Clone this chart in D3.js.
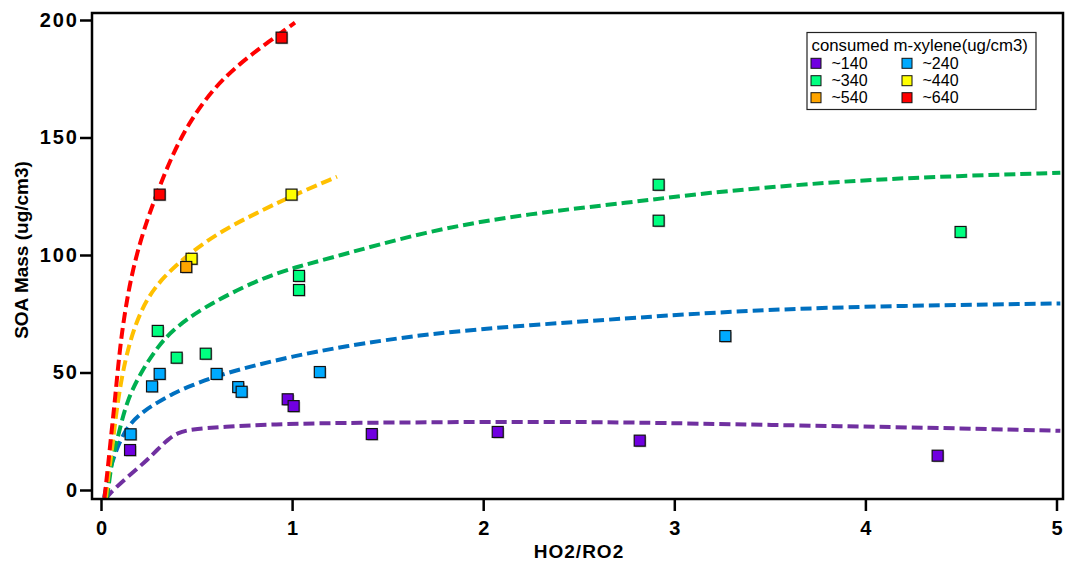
<!DOCTYPE html>
<html>
<head>
<meta charset="utf-8">
<script src="https://cdn.jsdelivr.net/npm/d3@7"></script>
<style>
  html, body { margin: 0; padding: 0; background: #fff; }
  svg { display: block; }
  text { font-family: "Liberation Sans", Arial, sans-serif; }
</style>
</head>
<body>
<svg id="chart" width="1067" height="563"></svg>
<script>
// Series: consumed m-xylene groups
const groups = ["~140", "~240", "~340", "~440", "~540", "~640"];
const markerColors = ["#7000e0", "#00aaff", "#00ff80", "#ffff00", "#ffa500", "#ff0000"];
const fitColors = ["#7030a0", "#0070c0", "#00b050", null, "#ffc000", "#ff0000"];

// Measured points [HO2/RO2, SOA mass]
const pts140 = [[0.152, 17.0], [0.977, 38.6], [1.008, 35.7], [1.417, 23.8], [2.076, 24.7], [2.819, 21.0], [4.378, 14.6]];
const pts240 = [[0.155, 23.7], [0.307, 49.4], [0.267, 44.1], [0.605, 49.4], [0.718, 43.8], [0.736, 41.8], [1.145, 50.2], [3.267, 65.5]];
const pts340 = [[0.297, 67.7], [0.396, 56.3], [0.548, 58.0], [1.036, 91.1], [1.036, 85.1], [2.918, 129.9], [2.918, 114.6], [4.498, 109.8]];
const pts440 = [[0.474, 98.4], [0.997, 125.7]];
const pts540 = [[0.446, 94.9]];
const pts640 = [[0.307, 125.7], [0.945, 192.5]];

// Fitted curves (dashed)
const fit140 = [[0.026, -3.8], [0.042, -1.7], [0.126, 4.7], [0.232, 12.0], [0.293, 17.0], [0.35, 21.5], [0.40, 24.3], [0.466, 25.8], [0.64, 26.9], [0.902, 28.0], [1.251, 28.6], [2.245, 29.1], [2.768, 28.8], [3.483, 27.7], [4.354, 26.5], [5.02, 25.2]];
const fit240 = [[0.016, -3.4], [0.024, 0], [0.049, 9.8], [0.093, 19.9], [0.145, 27.9], [0.23, 34.0], [0.291, 37.0], [0.378, 41.1], [0.466, 44.3], [0.638, 49.4], [0.815, 53.2], [0.989, 56.6], [1.251, 60.9], [1.722, 66.7], [2.245, 70.2], [2.768, 73.1], [3.134, 75.2], [3.832, 78.0], [5.02, 79.4]];
const fit340 = [[0.031, -3.8], [0.044, 4.3], [0.058, 12.8], [0.093, 24.1], [0.136, 38.3], [0.215, 51.0], [0.302, 61.5], [0.372, 67.8], [0.518, 77.0], [0.815, 89.4], [1.024, 95.0], [1.198, 98.6], [1.722, 110.6], [2.245, 117.7], [2.768, 122.3], [3.139, 126.3], [3.83, 131.2], [4.354, 133.3], [5.02, 135.0]];
const fit540 = [[0.026, -3.4], [0.042, 8.5], [0.058, 17.0], [0.084, 36.5], [0.127, 56.0], [0.179, 70.5], [0.241, 81.5], [0.324, 90.5], [0.466, 101.0], [0.638, 110.6], [0.815, 117.9], [0.989, 124.8], [1.235, 133.3]];
const fit640 = [[0.018, -3.4], [0.037, 10.2], [0.055, 24.7], [0.073, 38.3], [0.089, 52.3], [0.11, 67.5], [0.136, 81.0], [0.167, 94.0], [0.22, 110.0], [0.293, 126.5], [0.378, 143.5], [0.466, 157.0], [0.588, 170.9], [0.727, 181.6], [0.867, 190.1], [1.015, 198.9]];

const xTicks = [0, 1, 2, 3, 4, 5];
const yTicks = [0, 50, 100, 150, 200];

const pointSets = [pts140, pts240, pts340, pts440, pts540, pts640];
const fitSets = [fit140, fit240, fit340, null, fit540, fit640];

const svg = d3.select("#chart");
const frame = { left: 92, top: 13, right: 1063, bottom: 499 };

const x = d3.scaleLinear().domain([0, 5]).range([101, 1056.5]);
const y = d3.scaleLinear().domain([0, 200]).range([490, 20]);

svg.append("defs").append("clipPath").attr("id", "plotClip")
  .append("rect")
  .attr("x", frame.left).attr("y", frame.top)
  .attr("width", frame.right - frame.left).attr("height", frame.bottom - frame.top);

// Fit curves
const line = d3.line().x(d => x(d[0])).y(d => y(d[1])).curve(d3.curveBasis);
const curves = svg.append("g").attr("clip-path", "url(#plotClip)");
fitSets.forEach((fit, i) => {
  if (!fit) return;
  curves.append("path")
    .datum(fit)
    .attr("d", line)
    .attr("fill", "none")
    .attr("stroke", fitColors[i])
    .attr("stroke-width", 4)
    .attr("stroke-dasharray", "11,5");
});

// Markers
const size = 11;
const marks = svg.append("g");
pointSets.forEach((pts, i) => {
  const g = marks.append("g");
  g.selectAll("rect.shadow").data(pts).join("rect")
    .attr("class", "shadow")
    .attr("x", d => x(d[0]) - size / 2 + 1.2)
    .attr("y", d => y(d[1]) - size / 2 + 1.2)
    .attr("width", size).attr("height", size)
    .attr("fill", "#000").attr("opacity", 0.25);
  g.selectAll("rect.pt").data(pts).join("rect")
    .attr("class", "pt")
    .attr("x", d => x(d[0]) - size / 2)
    .attr("y", d => y(d[1]) - size / 2)
    .attr("width", size).attr("height", size)
    .attr("fill", markerColors[i])
    .attr("stroke", "#111").attr("stroke-width", 1.2);
});

// Frame
svg.append("rect")
  .attr("x", frame.left).attr("y", frame.top)
  .attr("width", frame.right - frame.left).attr("height", frame.bottom - frame.top)
  .attr("fill", "none").attr("stroke", "#000").attr("stroke-width", 2.5);

// Axes
const yAxis = svg.append("g")
  .attr("transform", `translate(${frame.left},0)`)
  .call(d3.axisLeft(y).tickValues(yTicks).tickSize(12).tickPadding(3));
const xAxis = svg.append("g")
  .attr("transform", `translate(0,${frame.bottom})`)
  .call(d3.axisBottom(x).tickValues(xTicks).tickSize(12).tickPadding(10).tickFormat(d3.format("d")));

[xAxis, yAxis].forEach(ax => {
  ax.select(".domain").remove();
  ax.selectAll(".tick line").attr("stroke", "#000").attr("stroke-width", 2.5);
  ax.selectAll(".tick text")
    .attr("fill", "#000")
    .style("font-family", "'Liberation Sans', Arial, sans-serif")
    .style("font-size", "20px")
    .style("font-weight", "bold")
    .style("letter-spacing", "2px");
});
yAxis.selectAll(".tick text").attr("x", -13);
xAxis.selectAll(".tick text").attr("dx", "1px");

// Axis titles
svg.append("text")
  .attr("transform", "translate(28,250) rotate(-90)")
  .attr("text-anchor", "middle")
  .style("font-size", "19px").style("font-weight", "bold")
  .text("SOA Mass (ug/cm3)");
svg.append("text")
  .attr("x", 579).attr("y", 558)
  .attr("text-anchor", "middle")
  .style("font-size", "19px").style("font-weight", "bold")
  .style("letter-spacing", "1px")
  .text("HO2/RO2");

// Legend
const lg = svg.append("g");
lg.append("rect")
  .attr("x", 807).attr("y", 32.5).attr("width", 229).attr("height", 77)
  .attr("fill", "#fff").attr("stroke", "#222").attr("stroke-width", 1.2);
lg.append("text")
  .attr("x", 811.5).attr("y", 50.5)
  .style("font-size", "16.8px")
  .text("consumed m-xylene(ug/cm3)");
const colX = [811, 902];
const rowY = [63.3, 80.7, 97.7];
groups.forEach((name, i) => {
  const cx = colX[i % 2], cy = rowY[Math.floor(i / 2)];
  lg.append("rect")
    .attr("x", cx).attr("y", cy - 5).attr("width", 10).attr("height", 10)
    .attr("fill", markerColors[i]).attr("stroke", "#111").attr("stroke-width", 1);
  lg.append("text")
    .attr("x", cx + 20.5).attr("y", cy + 5.5)
    .style("font-size", "16px")
    .text(name);
});
</script>
</body>
</html>
